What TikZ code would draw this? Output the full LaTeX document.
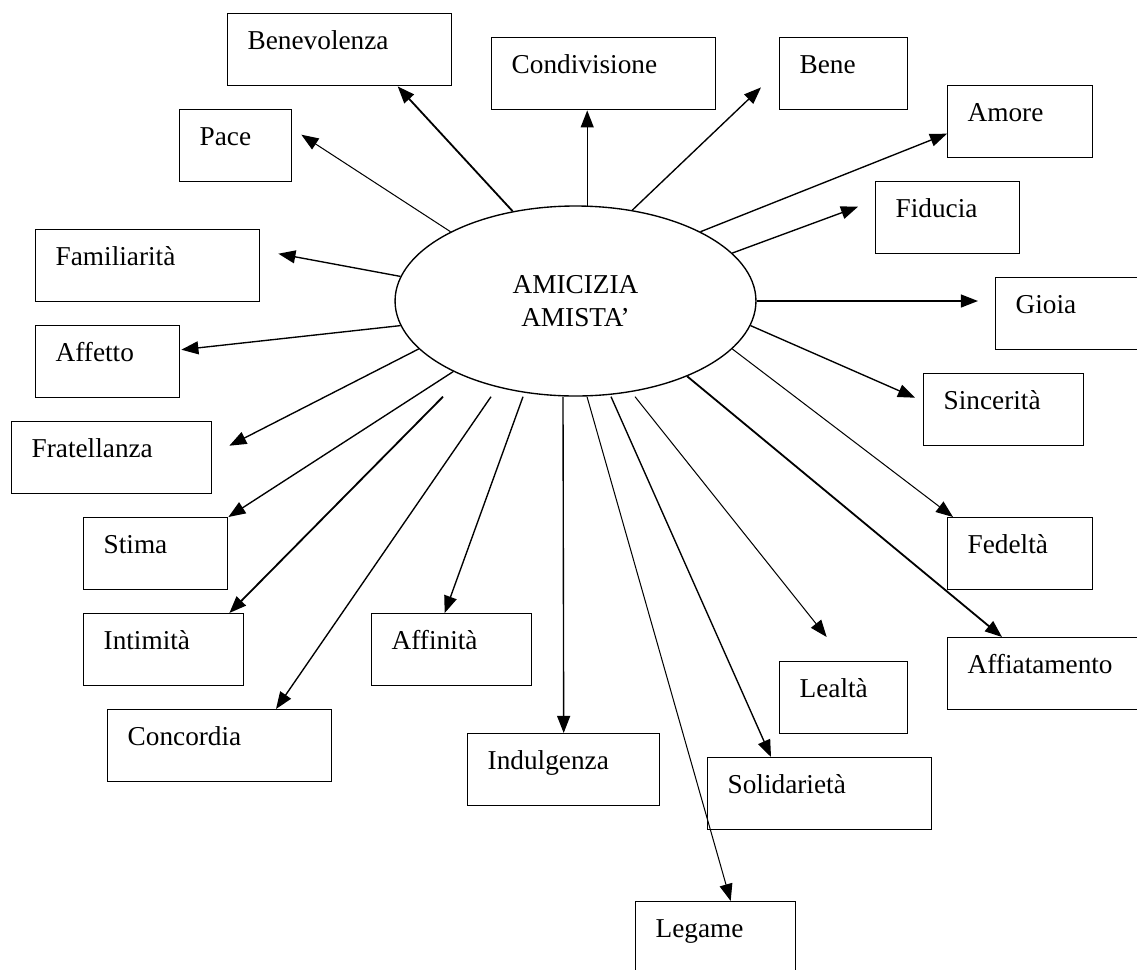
\documentclass[tikz,border=0pt]{standalone}
\usepackage{fontspec}
\setmainfont{Liberation Serif}
\usetikzlibrary{shapes.geometric, arrows.meta}

\begin{document}
\begin{tikzpicture}[x=0.44pt, y=-0.44pt, font=\fontsize{12pt}{14.5pt}\selectfont]
\tikzstyle{box}=[draw, line width=0.6pt, rectangle, anchor=north west, align=left, inner xsep=8.8pt, inner ysep=0pt, minimum height=31.7pt, text height=8pt, text depth=8pt]
\tikzstyle{arr}=[-{Triangle[length=7.5pt,width=5.7pt]}, line width=0.6pt]
\useasboundingbox (0,0) rectangle (1137,969);
\node[draw, ellipse, line width=0.6pt, minimum width=158.8pt, minimum height=83.6pt, inner sep=0pt, align=center] (ell) at (575.5,301) {AMICIZIA\\AMISTA’};
\node[box, text width=80.96pt] (benev) at (227,13) {Benevolenza};
\node[box, text width=80.96pt] (condiv) at (491,37) {Condivisione};
\node[box, text width=38.72pt] (bene) at (779,37) {Bene};
\node[box, text width=46.2pt] (amore) at (947,85) {Amore};
\node[box, text width=45.76pt] (fiducia) at (875,181) {Fiducia};
\node[box, text width=52.8pt] (gioia) at (995,277) {Gioia};
\node[box, text width=52.8pt] (sinc) at (923,373) {Sincerità};
\node[box, text width=46.2pt] (fedel) at (947,517) {Fedeltà};
\node[box, text width=70.4pt] (affiat) at (947,637) {Affiatamento};
\node[box, text width=38.72pt] (lealta) at (779,661) {Lealtà};
\node[box, text width=80.96pt] (solid) at (707,757) {Solidarietà};
\node[box, text width=52.8pt] (legame) at (635,901) {Legame};
\node[box, text width=66.88pt] (indulg) at (467,733) {Indulgenza};
\node[box, text width=52.8pt] (affin) at (371,613) {Affinità};
\node[box, text width=80.96pt] (concord) at (107,709) {Concordia};
\node[box, text width=52.8pt] (intim) at (83,613) {Intimità};
\node[box, text width=45.76pt] (stima) at (83,517) {Stima};
\node[box, text width=70.4pt] (frat) at (11,421) {Fratellanza};
\node[box, text width=45.76pt] (affetto) at (35,325) {Affetto};
\node[box, text width=80.96pt] (famil) at (35,229) {Familiarità};
\node[box, text width=31.68pt] (pace) at (179,109) {Pace};
\path[arr]
(ell.151) edge [line width=0.45pt] ([shift={(9,-11)}]pace.east)
(ell.125) edge [line width=0.8pt] ([shift={(58,0)}]benev.south)
(ell.83) edge (ell.83 |- condiv.south)
(ell.58) edge ([shift={(-18,-23)}]bene.south west)
(ell.29) edge ([shift={(0,12)}]amore.west)
(ell.17) edge ([shift={(-17,-11)}]fiducia.west)
(ell.east) edge ([xshift=-7.5pt]ell.east -| gioia.west)
(ell.352) edge ([shift={(-8,-12)}]sinc.west)
(ell.343) edge [line width=0.45pt] ([shift={(6,0)}]fedel.north west)
(ell.326) edge [line width=0.8pt] ([shift={(55,0)}]affiat.north west)
(ell.south -| 635,0) edge [line width=0.45pt] ([shift={(-17,-24)}]lealta.north)
(ell.south -| 611,0) edge ([shift={(64,0)}]solid.north west)
(ell.south -| 587,0) edge [line width=0.45pt] ([shift={(15,0)}]legame.north)
(ell.south -| 563,0) edge (indulg.north)
(ell.south -| 523,0) edge ([shift={(-7,0)}]affin.north)
(ell.south -| 491,0) edge ([shift={(169,0)}]concord.north west)
(ell.south -| 443,0) edge [line width=0.8pt] ([shift={(-15,0)}]intim.north east)
(ell.210) edge (stima.north east)
(ell.197) edge ([shift={(17,-12)}]frat.east)
(ell.188) edge ([shift={(1,-12)}]affetto.east)
(ell.172) edge ([shift={(18,-12)}]famil.east)
;
\end{tikzpicture}
\end{document}
